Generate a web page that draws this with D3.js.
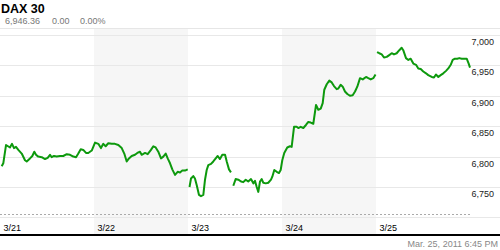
<!DOCTYPE html>
<html>
<head>
<meta charset="utf-8">
<script src="https://cdn.jsdelivr.net/npm/d3@7"></script>
<style>
  body { margin: 0; background: #fff; }
  svg { display: block; font-family: "Liberation Sans", Arial, sans-serif; }
</style>
</head>
<body>
<div id="chart"></div>
<script>
// trading days, x position is in "session" units (0..5)
var days = ["3/21", "3/22", "3/23", "3/24", "3/25"];
var shadedDays = [1, 3];

var gridValues = [6700, 6750, 6800, 6850, 6900, 6950, 7000];
var labelValues = [6750, 6800, 6850, 6900, 6950, 7000];
var refLevel = 6706;

// null = gap in the feed
var times = [
  0.018, 0.035, 0.064, 0.085, 0.106, 0.128, 0.149, 0.170, 0.195, 0.231,
  0.266, 0.284, 0.319, 0.344, 0.365, 0.383, 0.407, 0.444, 0.479, 0.507,
  0.532, 0.550, 0.574, 0.603, 0.638, 0.673, 0.710, 0.745, 0.780, 0.809,
  0.833, 0.859, 0.886, 0.915, 0.939, 0.976, 1.011, 1.046, 1.074, 1.099,
  1.124, 1.152, 1.188, 1.223, 1.259, 1.295, 1.322, 1.348, 1.372, 1.401,
  1.436, 1.461, 1.489, 1.507, 1.543, 1.571, 1.606, 1.631, 1.656, 1.684,
  1.713, 1.737, 1.763, 1.784, 1.809, 1.833, 1.862, 1.890, 1.915, 1.939,
  1.968, 1.997,
  2.006,
  2.016, 2.032, 2.056, 2.074, 2.093, 2.117, 2.138, 2.163, 2.181, 2.199,
  2.216, 2.245, 2.269, 2.295, 2.316, 2.340, 2.365, 2.394, 2.412, 2.436,
  2.457,
  2.470,
  2.482, 2.507, 2.535, 2.564, 2.588, 2.614, 2.641, 2.670, 2.695, 2.713,
  2.731, 2.748, 2.766, 2.784, 2.801, 2.827, 2.854, 2.883, 2.897, 2.918,
  2.944, 2.968, 2.986, 3.003, 3.024, 3.056, 3.085, 3.103, 3.128, 3.156,
  3.173, 3.199, 3.227, 3.255, 3.280, 3.305, 3.333, 3.362, 3.386, 3.412,
  3.433, 3.450, 3.476, 3.503, 3.529, 3.553, 3.582, 3.599, 3.624, 3.646,
  3.670, 3.695, 3.723, 3.752, 3.777, 3.801, 3.830, 3.859, 3.894, 3.918,
  3.944, 3.971, 3.995,
  4.003,
  4.011, 4.035, 4.061, 4.085, 4.114, 4.141, 4.167, 4.191, 4.220, 4.248,
  4.273, 4.290, 4.319, 4.344, 4.369, 4.397, 4.426, 4.450, 4.476, 4.503,
  4.532, 4.556, 4.593, 4.617, 4.638, 4.663, 4.688, 4.716, 4.745, 4.769,
  4.795, 4.816, 4.840, 4.865, 4.886, 4.912, 4.936, 4.965, 4.986, 5.000
];
var values = [
  6784, 6789, 6819, 6817, 6815, 6821, 6814, 6816, 6811, 6805,
  6794, 6792, 6797, 6801, 6808, 6803, 6800, 6799, 6796, 6798,
  6803, 6799, 6801, 6800, 6801, 6801, 6804, 6803, 6800, 6799,
  6805, 6812, 6811, 6806, 6806, 6810, 6823, 6821, 6814, 6821,
  6817, 6822, 6821, 6821, 6819, 6814, 6805, 6792, 6797, 6801,
  6803, 6806, 6808, 6803, 6806, 6804, 6811, 6817, 6815, 6808,
  6797, 6800, 6805, 6797, 6789, 6779, 6770, 6775, 6774, 6777,
  6777, 6779,
  null,
  6750, 6764, 6768, 6764, 6753, 6737, 6735, 6737, 6762, 6778,
  6786, 6788, 6792, 6797, 6801, 6796, 6803, 6803, 6792, 6779,
  6774,
  null,
  6752, 6763, 6762, 6759, 6758, 6762, 6759, 6763, 6756, 6760,
  6750, 6742, 6759, 6763, 6757, 6756, 6757, 6762, 6767, 6778,
  6775, 6773, 6778, 6794, 6806, 6815, 6817, 6816, 6849, 6849,
  6847, 6849, 6847, 6852, 6857, 6856, 6854, 6885, 6877, 6879,
  6888, 6910, 6919, 6925, 6922, 6916, 6911, 6912, 6918, 6915,
  6907, 6903, 6900, 6901, 6907, 6915, 6929, 6927, 6931, 6929,
  6927, 6929, 6935,
  null,
  6972, 6970, 6968, 6963, 6964, 6967, 6970, 6968, 6970, 6975,
  6979, 6975, 6962, 6959, 6961, 6953, 6951, 6945, 6944, 6940,
  6937, 6934, 6931, 6930, 6935, 6931, 6934, 6937, 6941, 6945,
  6951, 6959, 6961, 6961, 6962, 6961, 6961, 6961, 6953, 6946.36
];

var title = "DAX 30";
var quote = ["6,946.36", "0.00", "0.00%"];
var stamp = "Mar. 25, 2011 6:45 PM";

var W = 500, H = 250;
var svg = d3.select("#chart").append("svg")
  .attr("width", W)
  .attr("height", H);

var x = d3.scaleLinear().domain([0, 5]).range([0, 470]);
var y = d3.scaleLinear().domain([6700, 7000]).range([217.4, 35]);

// alternating day shading
svg.selectAll(".band")
  .data(shadedDays)
  .enter().append("rect")
  .attr("class", "band")
  .attr("x", function (d) { return x(d); })
  .attr("width", function (d) { return x(d + 1) - x(d); })
  .attr("y", 29)
  .attr("height", 205)
  .attr("fill", "#f6f6f6");

// header separator
svg.append("line")
  .attr("x1", 0).attr("x2", W)
  .attr("y1", 28.5).attr("y2", 28.5)
  .attr("stroke", "#e6e6e6");

// horizontal grid
var grid = svg.append("g")
  .call(d3.axisLeft(y).tickValues(gridValues).tickSize(-W).tickFormat(""));
grid.select(".domain").remove();
grid.selectAll("line")
  .attr("stroke", "#e8e8e8")
  .attr("shape-rendering", "crispEdges");

// dashed reference line
svg.append("line")
  .attr("x1", 0).attr("x2", x(5))
  .attr("y1", Math.round(y(refLevel)) + 0.5).attr("y2", Math.round(y(refLevel)) + 0.5)
  .attr("stroke", "#aaa")
  .attr("stroke-dasharray", "2,2");

// y labels (under each grid line, right side)
var yAxis = svg.append("g")
  .attr("transform", "translate(494,0)")
  .call(d3.axisLeft(y).tickValues(labelValues).tickSize(0).tickPadding(0)
    .tickFormat(d3.format(",")));
yAxis.select(".domain").remove();
yAxis.selectAll("text")
  .attr("dy", null)
  .attr("y", 9.5)
  .attr("font-size", 9)
  .attr("font-family", "Liberation Sans, Arial, sans-serif")
  .attr("fill", "#222");

// day labels
var xAxis = svg.append("g")
  .attr("transform", "translate(0,231)")
  .call(d3.axisBottom(x).tickValues(d3.range(days.length)).tickSize(0)
    .tickFormat(function (i) { return days[i]; }));
xAxis.select(".domain").remove();
xAxis.selectAll("text")
  .attr("dy", null)
  .attr("y", 0)
  .attr("x", 3)
  .attr("text-anchor", "start")
  .attr("font-size", 9)
  .attr("font-family", "Liberation Sans, Arial, sans-serif")
  .attr("fill", "#000");

// price line
var pts = times.map(function (t, i) { return { t: t, v: values[i] }; });
var line = d3.line()
  .defined(function (d) { return d.v != null; })
  .x(function (d) { return x(d.t); })
  .y(function (d) { return y(d.v); });

svg.append("path")
  .datum(pts)
  .attr("fill", "none")
  .attr("stroke", "#0d990d")
  .attr("stroke-width", 2)
  .attr("stroke-linejoin", "round")
  .attr("d", line);

// bottom rule
svg.append("rect")
  .attr("x", 0).attr("y", 234)
  .attr("width", W).attr("height", 2)
  .attr("fill", "#000");

// header text
svg.append("text")
  .attr("x", 1).attr("y", 13)
  .attr("font-size", 12.5)
  .attr("font-weight", "bold")
  .attr("fill", "#000")
  .text(title);

var qx = [5, 52, 80];
svg.selectAll(".quote")
  .data(quote)
  .enter().append("text")
  .attr("class", "quote")
  .attr("x", function (d, i) { return qx[i]; })
  .attr("y", 24)
  .attr("font-size", 9)
  .attr("fill", "#777")
  .text(function (d) { return d; });

svg.append("text")
  .attr("x", 498).attr("y", 247)
  .attr("text-anchor", "end")
  .attr("font-size", 9)
  .attr("fill", "#888")
  .text(stamp);
</script>
</body>
</html>
